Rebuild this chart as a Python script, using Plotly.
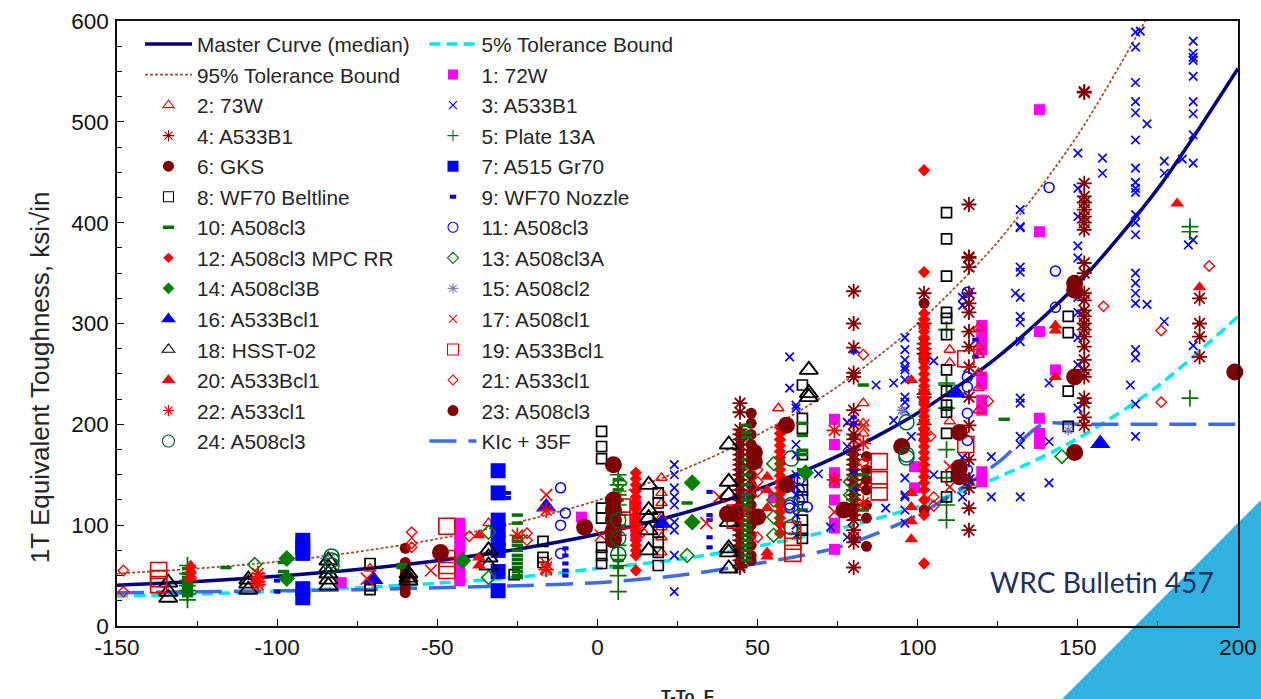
import plotly.graph_objects as go

# ---------- curves ----------
curve_x = [-150, -125, -100, -75, -50, -25, 0, 25, 50, 75, 100, 125, 150, 175, 200]
master_y = [40.5, 44.2, 49.4, 56.1, 64.8, 76.2, 91, 110.3, 135.5, 168.4, 211.2, 267, 339.5, 434, 553]
tol5_y = [29.7, 31.7, 34.4, 37.9, 42.4, 48.3, 57, 66, 79.1, 96.2, 118.4, 147.4, 186, 238, 307]
tol95_x = [-150, -125, -100, -75, -50, -25, 0, 25, 50, 75, 100, 125, 150, 171]
tol95_y = [52, 57, 63.7, 73.5, 86.3, 102.8, 124.5, 152.7, 189.5, 237.4, 300, 381, 487, 600]
klc_x = [-150, -125, -100, -75, -50, -25, 0, 25, 50, 75, 100, 125, 139, 150, 175, 200]
klc_y = [33, 34, 35, 36, 38, 40, 43, 50, 62, 78, 110, 162, 200, 200, 200, 200]

# ---------- data series: (T-To, [toughness values]) ----------
s1 = [(138, [512, 391, 292, 206, 191, 181]), (143, [254]), (120, [298, 290, 282, 274, 247, 240, 224, 214, 153, 143]),
      (-43, [102, 95, 88, 80, 72, 65, 58, 50, 45]), (-80, [43]), (-5, [108]), (74, [205, 180, 152, 142, 125, 102, 97, 76]),
      (99, [158, 137]), (55, [127]), (12, [120, 105, 90]), (47, [130, 115])]
s2 = [(20, [147, 132, 122, 108, 98, 88, 73]), (56.5, [216]), (83, [221, 201, 191, 140, 138]), (110, [274, 261, 203]),
      (119, [296, 277, 269, 251, 236, 214]), (-34, [102]), (-71, [57])]
s3 = [(24, [160, 150, 137, 128, 120, 103, 95, 70, 34]), (60, [267, 236]),
      (62, [219, 216, 180, 170, 150, 138, 130, 120, 110, 100, 90]), (69, [151]), (72.8, [98]),
      (78, [202, 178, 88]), (87, [239]), (92.5, [241, 204]),
      (96, [286, 274, 264, 257, 254, 244, 227, 222, 214, 147, 130, 128, 115, 102]), (90, [117]), (98, [188]),
      (105, [263, 150]), (123, [168, 128]), (114, [326, 318, 167, 128]), (130.5, [330]),
      (132, [413, 396, 395, 356, 351, 326, 307, 301, 282, 226, 221, 188, 180, 128]),
      (141, [241, 183, 142]), (150, [469, 434, 406, 377, 365, 326, 311, 286, 259, 216]), (157.7, [464, 449]),
      (168, [589, 574, 539, 520, 509, 482, 454, 440, 434, 430, 408, 400, 388, 350, 340, 330, 320, 274, 266, 220, 188]),
      (169.5, [590]), (171.6, [498, 319]), (166.4, [239]), (177, [461, 449, 302]),
      (186, [580, 568, 564, 561, 545, 520, 508, 487, 459, 383, 278]), (182.6, [463]), (184.5, [378])]
s4 = [(44.5, [221, 212, 195, 190, 185, 180, 175, 170, 165, 160, 155, 150, 145, 140, 135, 130, 125, 120, 115, 110, 105,
              100, 95, 90, 85, 80, 75, 70, 65, 60, 58]),
      (80, [332, 300, 276, 251, 247, 214, 200, 190, 185, 175, 170, 165, 160, 155, 150, 145, 140, 135, 130, 125, 120,
            115, 110, 105, 95, 88, 83, 58]),
      (116, [418, 366, 365, 356, 330, 320, 311, 292, 277, 257, 227, 199, 165, 145, 137, 117, 95]),
      (152, [530, 529, 439, 426, 420, 413, 406, 400, 393, 360, 350, 330, 323, 313, 307, 300, 294, 287, 277, 264, 254,
             247, 226, 221, 207, 199]),
      (188, [325, 300, 287, 267]), (102, [330, 300, 280, 275, 270, 230, 227, 200, 190])]
s5 = [(-128, [60, 52, 45, 40, 35, 32, 26]), (6.5, [150, 140, 130, 120, 110, 100, 90, 80, 70, 60, 50, 34]),
      (109, [294, 241, 239, 216, 175, 147, 120, 105]), (185, [396, 391, 226])]
s6 = [(-60, [77, 63, 57, 52, 48, 44, 38, 33]), (48, [211, 201, 190, 180, 170, 160, 150, 140, 130, 120, 110, 100, 90, 80, 70, 65]),
      (84, [168, 155, 145, 135, 120, 107, 79]), (102, [320, 264, 115])]
s7 = [(-92, [85, 78, 72, 37, 28]), (-31, [154, 132, 105, 95, 85, 75, 54, 35])]
s8 = [(-71, [62, 40, 36]), (-17, [84, 68, 63]), (-26, [51]), (1.3, [193, 178, 166, 117, 107, 78, 70, 62]),
      (19, [132, 122, 108, 93, 83, 73, 60]), (64, [239, 206, 196, 170, 145, 135, 128, 105, 95, 87]),
      (109, [410, 384, 347, 311, 305, 289, 254, 233, 219, 212, 191, 148, 128]), (147, [307, 291, 233, 198])]
s9 = [(-100, [45, 34]), (-28, [132, 127]), (-10, [77, 70, 62, 55, 50]), (35, [133, 110, 105, 88, 78]),
      (80, [272, 207, 201, 153, 135]), (118, [284, 267])]
s10 = [(-116, [58]), (-128, [57, 52, 48, 45, 42, 38, 35, 33, 30]), (-98, [63, 54]), (-61, [61, 58]),
       (-25, [110, 102, 88, 84, 80, 75, 70, 66, 62, 58, 54, 50, 48]), (28, [122]),
       (46.5, [199, 192, 187, 165, 158, 150, 140, 130, 125, 120, 115, 110, 105, 100, 95, 90, 85, 80, 75, 70, 65]),
       (64, [201, 189, 174, 170, 155, 115]), (83, [239, 150, 115]), (127, [205]), (6.5, [145, 135, 125, 65, 58])]
s11 = [(-11.5, [137, 100, 72]), (-10, [112]), (63, [135, 125, 145]), (60, [120, 117]), (65.5, [118]),
       (141, [435]), (143, [352, 316]), (115.5, [331, 247, 237, 211, 184, 155, 145])]
s12 = [(12, [152, 146, 140, 134, 128, 122, 116, 110, 105, 100, 95, 90, 85, 80, 75, 70, 55]),
       (57, [197, 191, 185, 179, 173, 167, 161, 155, 149, 143, 137, 131, 125, 119, 113, 107, 101, 92]),
       (102, [310, 304, 298, 292, 286, 280, 274, 268, 262, 256, 250, 244, 238, 232, 226, 220, 214, 208, 202, 196, 190,
              184, 178, 172, 166, 160, 154, 148, 142, 135, 125, 110, 452, 351, 62])]
s13 = [(-107, [61]), (-34, [93, 48]), (7, [142]), (28, [70]), (55, [161, 125, 108, 90]), (79, [143, 130]), (145, [168])]
s14 = [(-97, [67, 47]), (-42, [65]), (29.6, [142, 103]), (65, [152])]
s15 = [(-85, [67]), (95, [214]), (147, [194])]
s16 = [(-16, [118]), (-70, [46]), (20, [102]), (112, [231]), (157, [181])]
s17 = [(-72, [47]), (-16, [130, 62, 58]), (1, [90]), (34, [102]), (38, [128]), (74, [113]), (83, [199]), (110, [158, 138]),
       (-52, [55])]
s18 = [(-134, [43, 34, 28]), (-109, [46, 42, 36]), (-84, [65, 58, 52, 46, 40]), (-59, [52, 48, 45]), (-34, [75, 68, 60]),
       (16, [140, 115, 107, 95, 75]), (41, [180, 143, 130, 103, 77, 73, 57]), (66, [254, 231, 227])]
s19 = [(-137, [55, 47, 41]), (-47, [99, 67, 60, 55]), (61, [95, 84, 72]), (88, [163, 145, 133]), (43, [112, 105]),
       (7.7, [118, 105]), (115, [265, 180])]
s20 = [(-127, [60, 55, 50, 47]), (-37, [90, 68, 60]), (53, [148, 135, 117, 73, 69]), (98, [244, 132, 118, 104, 86]),
       (143, [298, 293, 247]), (181, [419]), (188, [336])]
s21 = [(-148, [55, 34]), (-58, [93, 82, 78]), (-40, [89]), (-22, [92, 85]), (14, [93]), (50, [155, 143, 133, 88]), (47, [113]),
       (83, [269, 162]), (104, [188]), (105, [128, 119]), (122, [223]), (158, [317]), (176, [293, 222]), (191, [357])]
s22 = [(-106, [52, 48, 44, 41]), (-25, [90]), (-16, [115, 56]), (74, [194, 145]), (83, [181, 122])]
s23 = [(-49, [73]), (-4, [98]), (5, [160, 125, 115, 105, 95, 90, 85]), (49, [172, 163]), (40.6, [111]), (43, [111]), (50, [108]),
       (59, [199, 140]), (77, [115]), (95, [178]), (113, [192, 157, 148]), (149, [340, 333, 247, 172]), (199, [252])]
s24 = [(-83, [69, 65, 60]), (6.5, [105, 87, 71]), (60.5, [166, 120, 98]), (96.5, [202, 170, 167])]

legend_names = ["Master Curve (median)", "5% Tolerance Bound", "95% Tolerance Bound", "1: 72W", "2: 73W", "3: A533B1",
                "4: A533B1", "5: Plate 13A", "6: GKS", "7: A515 Gr70", "8: WF70 Beltline", "9: WF70 Nozzle",
                "10: A508cl3", "11: A508cl3", "12: A508cl3 MPC RR", "13: A508cl3A", "14: A508cl3B", "15: A508cl2",
                "16: A533Bcl1", "17: A508cl1", "18: HSST-02", "19: A533Bcl1", "20: A533Bcl1", "21: A533cl1",
                "22: A533cl1", "23: A508cl3", "24: A508cl3", "KIc + 35F"]
x_tick_vals = [-150, -100, -50, 0, 50, 100, 150, 200]
x_tick_text = ["-150", "-100", "-50", "0", "50", "100", "150", "200"]
y_tick_vals = [0, 100, 200, 300, 400, 500, 600]
y_tick_text = ["0", "100", "200", "300", "400", "500", "600"]

# ---------- styles: (symbol, chart size, legend size, colour, line width) ----------
styles = {
    1: ("square", 11, 10, "#ff00ff", 0), 2: ("triangle-up-open", 10, 10, "#ff0000", 1.4),
    3: ("x-thin-open", 8.5, 8, "#0000ff", 1.7), 4: ("asterisk-open", 12.5, 9.5, "#800000", 1.8),
    5: ("cross-thin-open", 12, 8, "#007000", 1.7), 6: ("circle", 11, 11, "#7f0000", 0),
    7: ("square", 15, 11, "#0000ff", 0), 8: ("square-open", 10, 10, "#000000", 1.7),
    9: ("line-ew-open", 4.5, 4.5, "#0000dd", 4), 10: ("line-ew-open", 8, 8, "#007000", 3.5),
    11: ("circle-open", 10, 10, "#0000ff", 1.5), 12: ("diamond", 9.5, 8, "#ff0000", 0),
    13: ("diamond-open", 10.5, 8.5, "#008000", 1.6), 14: ("diamond", 13, 9, "#008000", 0),
    15: ("asterisk-open", 8.5, 9, "#8080c0", 1.5), 16: ("triangle-up", 18, 13, "#0000ff", 0),
    17: ("x-thin-open", 12, 8, "#ff0000", 1.6), 18: ("triangle-up-open", 16, 11, "#000000", 1.9),
    19: ("square-open", 16, 11, "#e00000", 1.6), 20: ("triangle-up", 12, 12, "#ff0000", 0),
    21: ("diamond-open", 8, 7.5, "#ff0000", 1.4), 22: ("asterisk-open", 13, 9.5, "#ff0000", 1.7),
    23: ("circle", 17, 11, "#7f0000", 0), 24: ("circle-open", 15, 12, "#006030", 1.5),
}
all_series = {1: s1, 2: s2, 3: s3, 4: s4, 5: s5, 6: s6, 7: s7, 8: s8, 9: s9, 10: s10, 11: s11, 12: s12, 13: s13, 14: s14,
              15: s15, 16: s16, 17: s17, 18: s18, 19: s19, 20: s20, 21: s21, 22: s22, 23: s23, 24: s24}

fig = go.Figure()


def legend_of(i):
    return "legend" if i % 2 == 0 else "legend2"


# line traces (drawn below the markers); legend rows are taken from legendrank
line_defs = [
    (0, curve_x, master_y, dict(color="#000080", width=3.5), "solid"),
    (1, curve_x, tol5_y, dict(color="#00e8f0", width=3.5), "11px,6px"),
    (2, tol95_x, tol95_y, dict(color="#a0522d", width=1.8), "3px,2px"),
    (27, klc_x, klc_y, dict(color="#3d6be8", width=3.5), "27px,12px"),
]
for idx, xs, ys, ln, dash in line_defs:
    fig.add_trace(go.Scatter(x=xs, y=ys, mode="lines", name=legend_names[idx], legendrank=idx,
                             legendgroup=f"g{idx}", legend=legend_of(idx),
                             line=dict(color=ln["color"], width=ln["width"], dash=dash, shape="spline", smoothing=0.8),
                             hoverinfo="skip"))

for n, cols in all_series.items():
    sym, size, lsize, color, lw = styles[n]
    xs = [c[0] for c in cols for _ in c[1]]
    ys = [v for c in cols for v in c[1]]
    idx = n + 2
    fig.add_trace(go.Scatter(x=xs, y=ys, mode="markers", showlegend=False, cliponaxis=False,
                             marker=dict(symbol=sym, size=size, color=color, line=dict(color=color, width=lw))))
    fig.add_trace(go.Scatter(x=[None], y=[None], mode="markers", name=legend_names[idx], legendrank=idx,
                             legendgroup=f"g{idx}", legend=legend_of(idx),
                             marker=dict(symbol=sym, size=lsize, color=color,
                                         line=dict(color=color, width=min(lw, 1.1) if lw < 3 else lw))))

FONT = "Liberation Sans, Arial, sans-serif"
leg = dict(bgcolor="rgba(0,0,0,0)", borderwidth=0, tracegroupgap=0.5, itemwidth=47, itemclick=False, itemdoubleclick=False,
           font=dict(family=FONT, size=20.8, color="#262626"), yanchor="top", xanchor="left", orientation="v",
           traceorder="grouped")
axis = dict(showline=True, linecolor="#111111", linewidth=1.6, mirror=True, ticks="inside", tickcolor="#111111",
            ticklen=7, tickwidth=1.4, showgrid=False, zeroline=False, tickfont=dict(family=FONT, size=22.5, color="#111111"))
fig.update_layout(
    width=1261, height=699, margin=dict(l=117, r=23, t=21, b=73, autoexpand=False), paper_bgcolor="white",
    plot_bgcolor="rgba(0,0,0,0)", showlegend=True, hovermode=False,
    legend=dict(leg, x=0.0205, y=0.995), legend2=dict(leg, x=0.2743, y=0.995),
    xaxis=dict(axis, range=[-150, 200], tickmode="array", tickvals=x_tick_vals, ticktext=x_tick_text,
               minor=dict(tickmode="linear", tick0=0, dtick=25, ticks="inside", ticklen=5, tickcolor="#111111", tickwidth=1.2)),
    yaxis=dict(axis, range=[0, 600], tickmode="array", tickvals=y_tick_vals, ticktext=y_tick_text, ticklabelstandoff=2,
               minor=dict(tickmode="linear", tick0=0, dtick=25, ticks="inside", ticklen=5, tickcolor="#111111", tickwidth=1.2)),
    shapes=[dict(type="path", xref="paper", yref="paper", layer="below", line=dict(width=0), fillcolor="#2FB2E0",
                 path="M 0.843 -0.1207 L 1.0205 0.2083 L 1.0205 -0.1207 Z")],
    annotations=[
        dict(text="1T Equivalent Toughness, ksi√in", xref="paper", yref="paper", x=-0.0685, y=0.4116, textangle=-90,
             showarrow=False, xanchor="center", yanchor="middle", font=dict(family=FONT, size=26, color="#262626")),
        dict(text="<b>T-To, F</b>", xref="paper", yref="paper", x=0.5085, y=-0.097, showarrow=False, xanchor="center",
             yanchor="top", font=dict(family=FONT, size=16.5, color="#262626")),
        dict(text="WRC Bulletin 457", xref="paper", yref="paper", x=0.777, y=0.0727, showarrow=False, xanchor="left",
             yanchor="middle", font=dict(family="Lato, Noto Sans, sans-serif", size=28.2, color="#1F2F5F")),
    ],
)
fig.write_html("out.html", config=dict(displayModeBar=False),
               post_script="document.body.style.margin='0';document.body.style.overflow='hidden';")
